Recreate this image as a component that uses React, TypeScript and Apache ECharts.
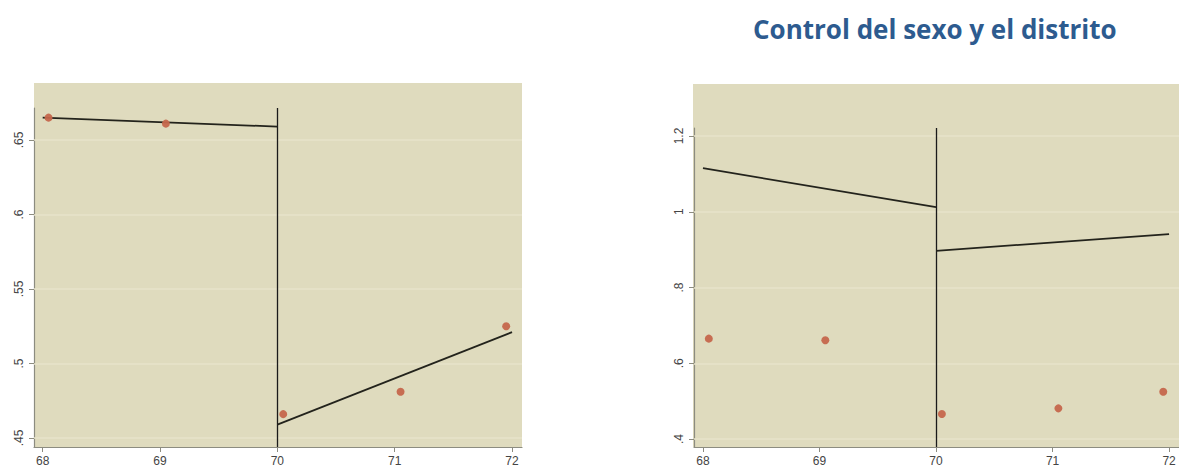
import React, { useEffect, useRef } from "react";
import * as echarts from "echarts";

const pointX = [68.05, 69.05, 70.05, 71.05, 71.95];
const pointY = [0.665, 0.661, 0.466, 0.481, 0.525];
const cutoff = 70;
const xTicks = [68, 69, 70, 71, 72];

const leftFitBefore = [[68, 0.665], [70, 0.659]];
const leftFitAfter = [[70, 0.459], [72, 0.521]];
const leftYTicks = [0.45, 0.5, 0.55, 0.6, 0.65];

const rightFitBefore = [[68, 1.115], [70, 1.012]];
const rightFitAfter = [[70, 0.897], [72, 0.941]];
const rightYTicks = [0.4, 0.6, 0.8, 1, 1.2];

const titleText = "Control del sexo y el distrito";

const BG = "#dfdbbe";
const GRID = "#e7e3ca";
const AXIS = "#8c8c80";
const LABEL = "#444444";
const DOT = "#c5674c";
const FIT = "#23231c";

const fmt = (v: number) => {
  const s = String(Math.round(v * 1000) / 1000);
  return s.startsWith("0.") ? s.slice(1) : s;
};

export default function App() {
  const ref = useRef<HTMLDivElement>(null);
  useEffect(() => {
    if (!ref.current) return;
    const chart = echarts.init(ref.current, undefined, { renderer: "svg" });

    const xAxisBase = (gridIndex: number, min: number, max: number) => ({
      type: "value",
      gridIndex,
      min,
      max,
      axisLine: { show: true, lineStyle: { color: AXIS, width: 1.2 } },
      axisTick: { show: true, length: 5, lineStyle: { color: AXIS }, customValues: xTicks },
      axisLabel: {
        customValues: xTicks,
        color: LABEL,
        fontSize: 12,
        fontFamily: "Liberation Sans",
        margin: 8,
        showMinLabel: true,
        showMaxLabel: true,
      },
      splitLine: { show: false },
    });

    const yAxisBase = (gridIndex: number, min: number, max: number, ticks: number[]) => ({
      type: "value",
      gridIndex,
      min,
      max,
      axisLine: { show: true, lineStyle: { color: AXIS, width: 1.2 } },
      axisTick: { show: true, length: 5, lineStyle: { color: AXIS }, customValues: ticks },
      axisLabel: {
        customValues: ticks,
        rotate: 90,
        color: LABEL,
        fontSize: 12,
        fontFamily: "Liberation Sans",
        margin: 9,
        formatter: (v: number) => fmt(v),
      },
      splitLine: { show: false },
    });

    const panelSeries = (
      idx: number,
      before: number[][],
      after: number[][],
      ticks: number[]
    ) => [
      {
        type: "line",
        xAxisIndex: idx,
        yAxisIndex: idx,
        data: [],
        silent: true,
        z: 1,
        markLine: {
          silent: true,
          z: 1,
          symbol: "none",
          label: { show: false },
          lineStyle: { color: GRID, width: 1.5, type: "solid" },
          data: ticks.map((t) => ({ yAxis: t })),
        },
      },
      {
        type: "line",
        xAxisIndex: idx,
        yAxisIndex: idx,
        data: [],
        silent: true,
        z: 3,
        markLine: {
          silent: true,
          z: 3,
          symbol: "none",
          label: { show: false },
          lineStyle: { color: "#1a1a1a", width: 1.3, type: "solid" },
          data: [{ xAxis: cutoff }],
        },
      },
      {
        type: "line",
        xAxisIndex: idx,
        yAxisIndex: idx,
        data: before,
        showSymbol: false,
        lineStyle: { color: FIT, width: 1.8 },
        z: 4,
      },
      {
        type: "line",
        xAxisIndex: idx,
        yAxisIndex: idx,
        data: after,
        showSymbol: false,
        lineStyle: { color: FIT, width: 1.8 },
        z: 4,
      },
      {
        type: "scatter",
        xAxisIndex: idx,
        yAxisIndex: idx,
        data: pointX.map((x, i) => [x, pointY[i]]),
        symbolSize: 8,
        itemStyle: { color: DOT, opacity: 0.95 },
        z: 5,
      },
    ];

    chart.setOption({
      animation: false,
      backgroundColor: "#ffffff",
      title: {
        text: titleText,
        left: 748,
        top: 11,
        textStyle: {
          color: "#2d5b8f",
          fontSize: 26,
          fontWeight: "bold",
          fontFamily: "Open Sans",
        },
      },
      graphic: [
        { type: "rect", shape: { x: 34, y: 83, width: 488, height: 364 }, style: { fill: BG }, z: -10, silent: true },
        { type: "rect", shape: { x: 693, y: 84, width: 486, height: 363 }, style: { fill: BG }, z: -10, silent: true },
      ],
      grid: [
        { left: 34, top: 108, width: 488, height: 339, show: false },
        { left: 694, top: 128, width: 487, height: 319, show: false },
      ],
      xAxis: [xAxisBase(0, 67.926, 72.085), xAxisBase(1, 67.923, 72.085)],
      yAxis: [
        yAxisBase(0, 0.44396, 0.67148, leftYTicks),
        yAxisBase(1, 0.379, 1.2211, rightYTicks),
      ],
      series: [
        ...panelSeries(0, leftFitBefore, leftFitAfter, leftYTicks),
        ...panelSeries(1, rightFitBefore, rightFitAfter, rightYTicks),
      ],
    });
    return () => chart.dispose();
  }, []);
  return (
    <div
      ref={ref}
      style={{ position: "absolute", left: 0, top: 0, width: 1179, height: 470 }}
    />
  );
}
